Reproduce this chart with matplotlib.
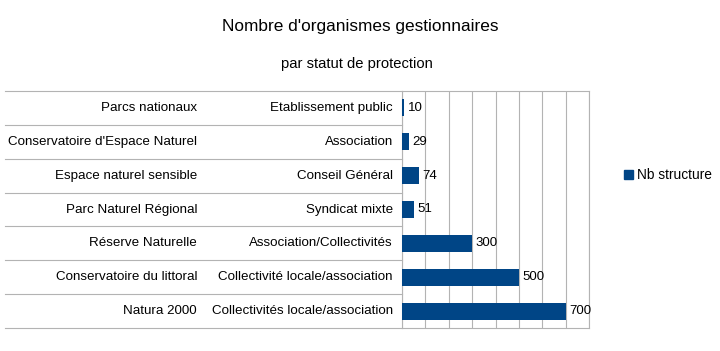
#!/usr/bin/env python3

import numpy as np
import matplotlib.pyplot as plt
import matplotlib.transforms as mtransforms
from matplotlib.patches import Patch

plt.rcParams['font.family'] = ['Liberation Sans', 'DejaVu Sans']

statuts = ["Parcs nationaux", "Conservatoire d'Espace Naturel", "Espace naturel sensible",
           "Parc Naturel Régional", "Réserve Naturelle", "Conservatoire du littoral", "Natura 2000"]
gestionnaires = ["Etablissement public", "Association", "Conseil Général", "Syndicat mixte",
                 "Association/Collectivités", "Collectivité locale/association",
                 "Collectivités locale/association"]
nb_structure = [10, 29, 74, 51, 300, 500, 700]

blue = '#004586'
grey = '#b3b3b3'

fig = plt.figure(figsize=(7.2, 3.51), dpi=100)
ax = fig.add_axes([402/720, 23/351, 187/720, 237/351])

y = np.arange(len(statuts))
ax.barh(y, nb_structure, height=0.5, color=blue, zorder=3)
ax.set_xlim(0, 800)
ax.set_ylim(len(statuts) - 0.5, -0.5)
ax.set_xticks(np.arange(0, 801, 100))
ax.grid(axis='x', color=grey, lw=0.8, zorder=0)
ax.tick_params(left=False, bottom=False, labelleft=False, labelbottom=False)
for s in ax.spines.values():
    s.set_color(grey)
    s.set_linewidth(0.8)

for yi, v in zip(y, nb_structure):
    ax.annotate(str(v), (v, yi), xytext=(2.5, 0), textcoords='offset points',
                va='center', ha='left', fontsize=9.5)

# category labels (two levels) left of the plot
tr = mtransforms.blended_transform_factory(ax.transAxes, ax.transData)
w = 187.0
for yi, a, b in zip(y, statuts, gestionnaires):
    ax.text((197 - 402) / w, yi, a, transform=tr, ha='right', va='center', fontsize=9.6)
    ax.text((393 - 402) / w, yi, b, transform=tr, ha='right', va='center', fontsize=9.6)
for yb in np.arange(-0.5, len(statuts), 1):
    ax.plot([(5 - 402) / w, 0], [yb, yb], transform=tr, color=grey, lw=0.8, clip_on=False)

fig.text(0.5, 1 - 27/351, "Nombre d'organismes gestionnaires", ha='center', va='center', fontsize=12.4)
fig.text(0.496, 1 - 64/351, "par statut de protection", ha='center', va='center', fontsize=10.6)

fig.legend(handles=[Patch(color=blue, label='Nb structure')], loc='center left',
           bbox_to_anchor=(612/720, 1 - 175/351), frameon=False, fontsize=9.9,
           handlelength=0.6, handleheight=0.6, handletextpad=0.3)

fig.savefig('out.png', dpi=100)
